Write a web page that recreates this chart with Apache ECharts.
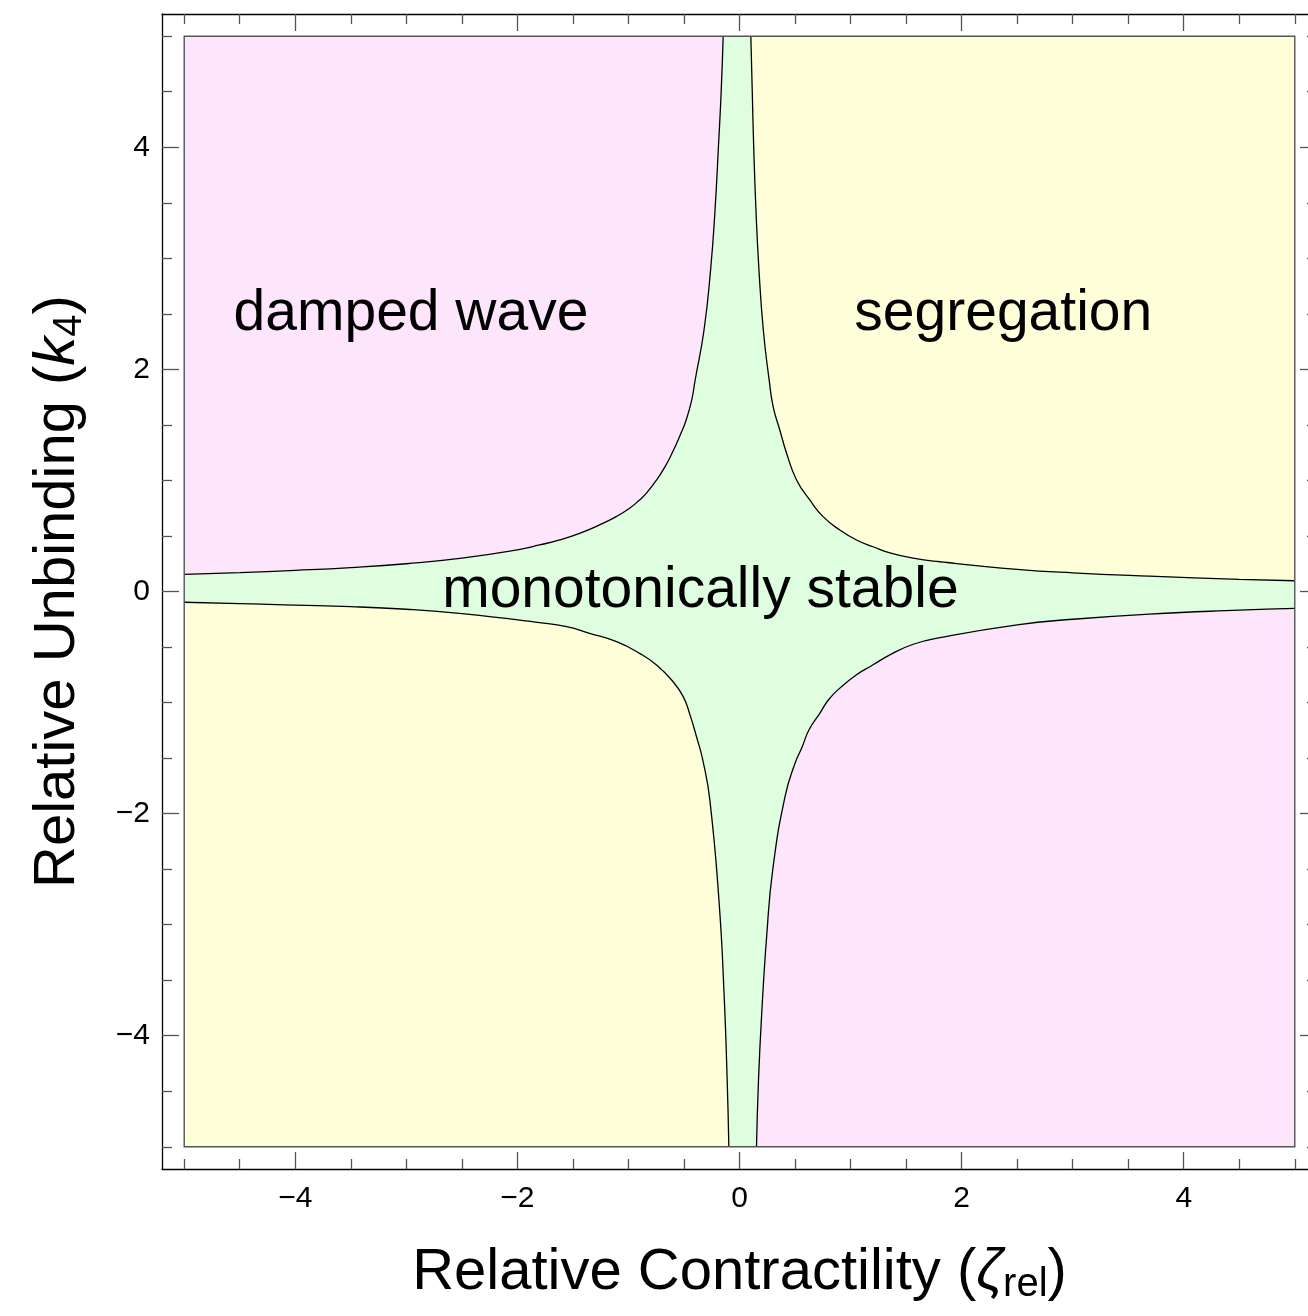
<!DOCTYPE html>
<html>
<head>
<meta charset="utf-8">
<script src="https://cdn.jsdelivr.net/npm/echarts@6/dist/echarts.min.js"></script>
<style>
html,body{margin:0;padding:0;background:#fff;}
#chart{width:1308px;height:1316px;}
</style>
</head>
<body>
<div id="chart"></div>
<script>
// ---- data ----
// boundary curves (zeta_rel, k4)
const upperLeftBoundary = [
  [-5, 0.155], [-4.5, 0.17], [-4, 0.19], [-3.5, 0.215], [-3, 0.25], [-2.5, 0.30],
  [-2, 0.375], [-1.8, 0.419], [-1.62, 0.464], [-1.44, 0.524], [-1.26, 0.6], [-1.11, 0.674],
  [-0.99, 0.749], [-0.9, 0.824], [-0.84, 0.884], [-0.75, 1.0], [-0.67, 1.124], [-0.6, 1.26],
  [-0.54, 1.394], [-0.48, 1.544], [-0.43, 1.725], [-0.40, 1.9], [-0.32, 2.35], [-0.26, 2.9],
  [-0.22, 3.44], [-0.19, 4.0], [-0.165, 4.5], [-0.147, 5]
];
const upperRightBoundary = [
  [0.102, 5], [0.115, 4.5], [0.128, 4.0], [0.148, 3.44], [0.175, 2.9], [0.215, 2.35],
  [0.267, 1.905], [0.303, 1.664], [0.363, 1.454], [0.424, 1.245], [0.514, 1.004],
  [0.633, 0.824], [0.753, 0.674], [0.903, 0.554], [1.054, 0.464], [1.203, 0.403],
  [1.354, 0.348], [1.564, 0.30], [1.804, 0.268], [2.5, 0.2], [3, 0.168], [3.69, 0.138],
  [4.5, 0.11], [5, 0.097]
];
const lowerLeftBoundary = [
  [-5, -0.097], [-4.5, -0.11], [-3.5, -0.137], [-3, -0.16], [-2.5, -0.2], [-1.8, -0.281],
  [-1.557, -0.317], [-1.35, -0.376], [-1.107, -0.452], [-0.9, -0.557], [-0.747, -0.662],
  [-0.6, -0.81], [-0.507, -0.947], [-0.45, -1.097], [-0.387, -1.308], [-0.33, -1.52],
  [-0.267, -1.878], [-0.185, -2.78], [-0.14, -3.6], [-0.111, -4.4], [-0.096, -5]
];
const lowerRightBoundary = [
  [0.153, -5], [0.171, -4.4], [0.2, -3.8], [0.245, -3.1], [0.3, -2.5], [0.41, -1.848],
  [0.5, -1.547], [0.565, -1.398], [0.625, -1.247], [0.723, -1.097], [0.8, -0.977],
  [0.903, -0.87], [1.054, -0.75], [1.203, -0.66], [1.354, -0.57], [1.564, -0.475],
  [1.804, -0.415], [2.5, -0.3], [3, -0.25], [3.69, -0.203], [4.5, -0.168], [5, -0.152]
];
const plotSquare = [[-5, -5], [5, -5], [5, 5], [-5, 5]];
const regionNames = ['damped wave', 'segregation', 'monotonically stable'];
const majorTicks = [-4, -2, 0, 2, 4];
const minorTicks = [-5, -4.5, -3.5, -3, -2.5, -1.5, -1, -0.5, 0.5, 1, 1.5, 2.5, 3, 3.5, 4.5, 5];

// ---- styling ----
const FONT = '"Liberation Sans", Arial, Helvetica, sans-serif';
const PINK = '#FDE5FC';
const YELLOW = '#FEFED9';
const GREEN = '#DFFDDF';
const TICK_COLOR = '#555';
const AX_MIN = -5.2, AX_MAX = 5.2;

function fmt(v) { return String(v).replace('-', '\u2212'); }

function makeAxes(kind) {
  const isX = kind === 'x';
  const sideA = isX ? 'bottom' : 'left';
  const sideB = isX ? 'top' : 'right';
  const base = { type: 'value', min: AX_MIN, max: AX_MAX, splitLine: { show: false }, gridIndex: 0 };
  const major = (pos, labels, line) => Object.assign({}, base, {
    position: pos,
    axisLine: { show: line, onZero: false, lineStyle: { color: '#000', width: 1.3 } },
    axisTick: { show: true, inside: true, length: 17, customValues: majorTicks, lineStyle: { color: TICK_COLOR, width: 1.3 } },
    axisLabel: { show: labels, customValues: majorTicks, formatter: fmt, color: '#000', fontSize: 30, fontFamily: FONT, margin: isX ? 15 : 12 }
  });
  const minor = (pos) => Object.assign({}, base, {
    position: pos,
    axisLine: { show: false, onZero: false },
    axisTick: { show: true, inside: true, length: 10, customValues: minorTicks, lineStyle: { color: TICK_COLOR, width: 1.3 } },
    axisLabel: { show: false }
  });
  const a0 = major(sideA, true, true);
  const nameRich = {
    i: { fontStyle: 'italic', fontSize: 58, fontFamily: FONT, color: '#000', lineHeight: 64 },
    s: { fontSize: 40, fontFamily: FONT, color: '#000', lineHeight: 40, verticalAlign: 'bottom' }
  };
  if (isX) {
    a0.name = 'Relative Contractility ({i|\u03B6}{s|rel})';
  } else {
    a0.name = 'Relative Unbinding ({i|k}{s|4})';
    a0.nameRotate = 90;
  }
  a0.nameLocation = 'middle';
  a0.nameGap = 72;
  a0.nameTextStyle = { fontSize: 58, fontFamily: FONT, color: '#000', lineHeight: 64, rich: nameRich };
  return [a0, minor(sideA), major(sideB, false, true), minor(sideB)];
}

function regionSeries(points, fill, edgeValue) {
  return {
    type: 'line',
    xAxisIndex: 0, yAxisIndex: 0,
    data: points,
    showSymbol: false,
    symbol: 'none',
    silent: true,
    smooth: 0.5,
    z: 3,
    lineStyle: { color: '#000', width: 1.3 },
    areaStyle: { color: fill, opacity: 1, origin: edgeValue },
    animation: false
  };
}

const labelAnchors = [[-2.958, 2.495], [2.375, 2.495], [-0.352, 0.0]];

const option = {
  animation: false,
  backgroundColor: '#fff',
  grid: { left: 162, top: 14, width: 1155, height: 1155, containLabel: false, outerBoundsMode: 'none', show: false },
  xAxis: makeAxes('x'),
  yAxis: makeAxes('y'),
  series: [
    {
      type: 'custom',
      coordinateSystem: 'cartesian2d',
      xAxisIndex: 0, yAxisIndex: 0,
      z: 1, silent: true,
      data: [[0, 0]],
      renderItem: function (params, api) {
        return {
          type: 'polygon',
          shape: { points: plotSquare.map(p => api.coord(p)) },
          style: { fill: GREEN, stroke: 'none' }
        };
      }
    },
    regionSeries(upperLeftBoundary, PINK, 5),
    regionSeries(upperRightBoundary, YELLOW, 5),
    regionSeries(lowerLeftBoundary, YELLOW, -5),
    regionSeries(lowerRightBoundary, PINK, -5),
    {
      type: 'custom',
      coordinateSystem: 'cartesian2d',
      xAxisIndex: 0, yAxisIndex: 0,
      z: 6, silent: true,
      data: [[0, 0]],
      renderItem: function (params, api) {
        return {
          type: 'polygon',
          shape: { points: plotSquare.map(p => api.coord(p)) },
          style: { fill: 'none', stroke: '#555', lineWidth: 1.4 }
        };
      }
    },
    {
      type: 'custom',
      coordinateSystem: 'cartesian2d',
      xAxisIndex: 0, yAxisIndex: 0,
      z: 7, silent: true,
      data: regionNames.map((n, i) => [labelAnchors[i][0], labelAnchors[i][1], i]),
      renderItem: function (params, api) {
        const pt = api.coord([api.value(0), api.value(1)]);
        return {
          type: 'text',
          x: pt[0], y: pt[1],
          style: {
            text: regionNames[api.value(2)],
            fill: '#000',
            fontSize: 57,
            fontFamily: FONT,
            align: 'center',
            verticalAlign: 'middle'
          }
        };
      }
    }
  ]
};

const chart = echarts.init(document.getElementById('chart'), null, { renderer: 'canvas' });
chart.setOption(option);
</script>
</body>
</html>
